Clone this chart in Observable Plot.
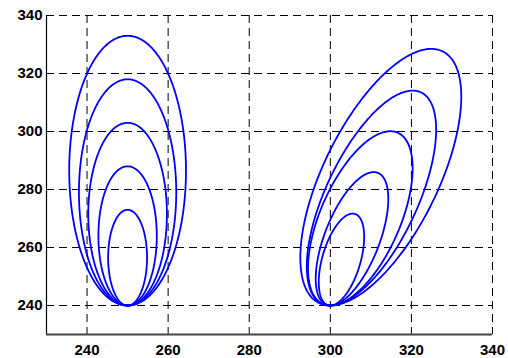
<!DOCTYPE html>
<html>
<head>
<meta charset="utf-8">
<script src="https://cdn.jsdelivr.net/npm/d3@7"></script>
<script src="https://cdn.jsdelivr.net/npm/@observablehq/plot@0.6"></script>
<style>
  html, body { margin: 0; padding: 0; background: #fff; }
  #chart svg text { font-size: 15px; font-weight: bold; font-family: 'Liberation Sans', Arial, sans-serif; }
</style>
</head>
<body>
<div id="chart"></div>
<script>
// Tick values
const xTicks = [240, 260, 280, 300, 320, 340];
const yTicks = [240, 260, 280, 300, 320, 340];

// Left family of ellipses: shared bottom point, top points and half-widths
const leftBase = [250, 240];
const leftTopX = [250, 250, 250, 250, 250];
const leftTopY = [333, 318, 303, 288, 273];
const leftHalfW = [14.4, 12.0, 9.7, 7.2, 4.8];

// Right family of tilted ellipses
const rightBase = [300, 240];
const rightTopX = [324.9, 320.3, 314.8, 310.7, 305.5];
const rightTopY = [328.5, 314.1, 300.1, 286.0, 271.7];
const rightHalfW = [19.85, 15.95, 12.9, 8.95, 5.6];

// Build ellipse outlines from the read parameters
function ellipse(id, base, tx, ty, w) {
  const cx = (base[0] + tx) / 2, cy = (base[1] + ty) / 2;
  const h = ty - cy;
  const c = Math.max(-1, Math.min(1, (tx - cx) / w));
  const phi = Math.acos(c);
  const n = 240, pts = [];
  for (let i = 0; i <= n; i++) {
    const t = (2 * Math.PI * i) / n;
    pts.push({id, x: cx + w * Math.cos(t), y: cy + h * Math.cos(t - phi)});
  }
  return pts;
}
const curves = [];
leftTopY.forEach((_, i) => curves.push(...ellipse("L" + i, leftBase, leftTopX[i], leftTopY[i], leftHalfW[i])));
rightTopY.forEach((_, i) => curves.push(...ellipse("R" + i, rightBase, rightTopX[i], rightTopY[i], rightHalfW[i])));

const chart = Plot.plot({
  width: 508,
  height: 358,
  marginLeft: 46,
  marginRight: 16,
  marginTop: 15,
  marginBottom: 24,
  style: {fontFamily: "'Liberation Sans', Arial, sans-serif", fontSize: "15px", fontWeight: "bold", color: "#000", background: "#fff"},
  x: {domain: [230, 340]},
  y: {domain: [230, 340]},
  marks: [
    Plot.ruleX(xTicks, {stroke: "#000", strokeWidth: 1, strokeDasharray: "8,5"}),
    Plot.ruleY(yTicks, {stroke: "#000", strokeWidth: 1, strokeDasharray: "8,5"}),
    Plot.line(curves, {x: "x", y: "y", z: "id", stroke: "#0000ff", strokeWidth: 1.8, curve: "linear"}),
    Plot.ruleX([230], {stroke: "#000", strokeWidth: 1.2}),
    Plot.ruleY([230], {stroke: "#444", strokeWidth: 1.8}),
    Plot.axisX({ticks: xTicks, tickSize: 0, tickPadding: 10, label: null, fontSize: 15, fontWeight: "bold"}),
    Plot.axisY({ticks: yTicks, tickSize: 0, tickPadding: 4, label: null, fontSize: 15, fontWeight: "bold"})
  ]
});
document.getElementById("chart").appendChild(chart);
</script>
</body>
</html>
